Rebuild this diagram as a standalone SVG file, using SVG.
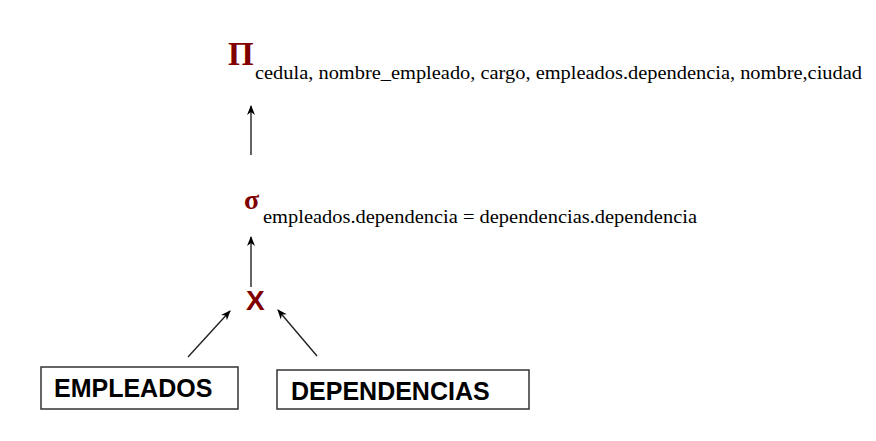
<svg xmlns="http://www.w3.org/2000/svg" width="876" height="441" viewBox="0 0 876 441">
<style>
.op{font-family:"Liberation Serif","Times New Roman",serif;font-weight:bold;fill:#800000}
.sub{font-family:"Liberation Serif","Times New Roman",serif;font-size:18px;fill:#000}
.box{fill:#fff;stroke:#333;stroke-width:1.5}
.lbl{font-family:"Liberation Sans",Arial,sans-serif;font-weight:bold;font-size:25px;fill:#000}
.conn{stroke:#222;stroke-width:1.4;fill:none;marker-end:url(#ah)}
</style>
<defs>
<marker id="ah" viewBox="0 0 10 10" refX="9" refY="5" markerWidth="10" markerHeight="10" markerUnits="userSpaceOnUse" orient="auto">
<path d="M0,1 L10,5 L0,9 L3,5 Z" fill="#000"/>
</marker>
</defs>
<rect width="876" height="441" fill="#fff"/>
<g id="projection">
<text class="op" x="228" y="65" font-size="33">Π</text>
<text class="sub" x="255" y="79" textLength="607" lengthAdjust="spacingAndGlyphs">cedula, nombre_empleado, cargo, empleados.dependencia, nombre,ciudad</text>
</g>
<g id="selection">
<text class="op" x="244" y="209" font-size="28">σ</text>
<text class="sub" x="263" y="223" textLength="434" lengthAdjust="spacingAndGlyphs">empleados.dependencia = dependencias.dependencia</text>
</g>
<g id="product">
<text x="246" y="310" font-family="Liberation Sans,Arial,sans-serif" font-weight="bold" font-size="28" fill="#800000">X</text>
</g>
<g id="empleados">
<rect class="box" x="41" y="367" width="197" height="42"/>
<text class="lbl" x="54" y="397">EMPLEADOS</text>
</g>
<g id="dependencias">
<rect class="box" x="277" y="370" width="252" height="39"/>
<text class="lbl" x="291" y="400">DEPENDENCIAS</text>
</g>
<g id="connectors">
<line class="conn" x1="251" y1="155" x2="251" y2="106"/>
<line class="conn" x1="251" y1="287" x2="251" y2="237"/>
<line class="conn" x1="188" y1="357" x2="230" y2="311"/>
<line class="conn" x1="317" y1="356" x2="278" y2="310"/>
</g>
</svg>
